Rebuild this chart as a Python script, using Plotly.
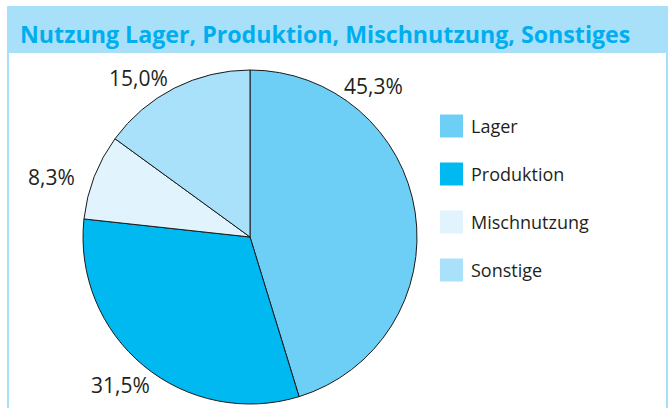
import plotly.graph_objects as go

categories = ["Lager", "Produktion", "Mischnutzung", "Sonstige"]
values = [45.3, 31.5, 8.3, 15.0]
colors = ["#6dcff6", "#00b9f1", "#e1f4fd", "#aae1fa"]
title_text = "Nutzung Lager, Produktion, Mischnutzung, Sonstiges"

W, H = 669, 408
# label anchor positions in pixels (layout only)
label_pos = [(373, 86), (120, 385), (52, 177), (138, 78)]

def px(x):
    return x / W

def py(y):
    return 1 - y / H

fig = go.Figure()
cx, cy, r = 250, 237, 167
fig.add_trace(go.Pie(
    labels=categories, values=values, sort=False, direction="clockwise",
    rotation=0, marker=dict(colors=colors, line=dict(color="#1a1a1a", width=1)),
    textinfo="none", hoverinfo="label+percent", showlegend=False,
    domain=dict(x=[px(cx - r), px(cx + r)], y=[py(cy + r), py(cy - r)]),
))

shapes = []
annotations = []
# outer frame
shapes.append(dict(type="rect", xref="paper", yref="paper",
                   x0=px(8), x1=px(667), y0=-0.2, y1=py(7),
                   line=dict(color="#a8e0f9", width=2), fillcolor="rgba(0,0,0,0)"))
# title band
shapes.append(dict(type="rect", xref="paper", yref="paper",
                   x0=px(8), x1=px(667), y0=py(53), y1=py(7),
                   line=dict(width=0), fillcolor="#a8e0f9", layer="below"))
annotations.append(dict(text="<b>" + title_text + "</b>", xref="paper", yref="paper",
                        x=px(18), y=py(34), xanchor="left", yanchor="middle",
                        showarrow=False, font=dict(size=23.2, color="#00aeef", family="Open Sans")))

for v, (lx, ly) in zip(values, label_pos):
    annotations.append(dict(text=f"{v:.1f}%".replace(".", ","), xref="paper", yref="paper",
                            x=px(lx), y=py(ly), xanchor="center", yanchor="middle",
                            showarrow=False, font=dict(size=21, color="#231f20", family="Open Sans")))

# legend
for i, (c, col) in enumerate(zip(categories, colors)):
    yc = 126 + 48 * i
    shapes.append(dict(type="rect", xref="paper", yref="paper",
                       x0=px(440), x1=px(463), y0=py(yc + 11.5), y1=py(yc - 11.5),
                       line=dict(width=0), fillcolor=col))
    annotations.append(dict(text=c, xref="paper", yref="paper", x=px(469), y=py(yc),
                            xanchor="left", yanchor="middle", showarrow=False,
                            font=dict(size=18, color="#231f20", family="Open Sans")))

fig.update_layout(width=W, height=H, margin=dict(l=0, r=0, t=0, b=0),
                  paper_bgcolor="white", plot_bgcolor="white",
                  shapes=shapes, annotations=annotations, showlegend=False)
fig.write_html("out.html", config={"displayModeBar": False},
               post_script="document.body.style.margin='0';document.body.style.overflow='hidden';")
